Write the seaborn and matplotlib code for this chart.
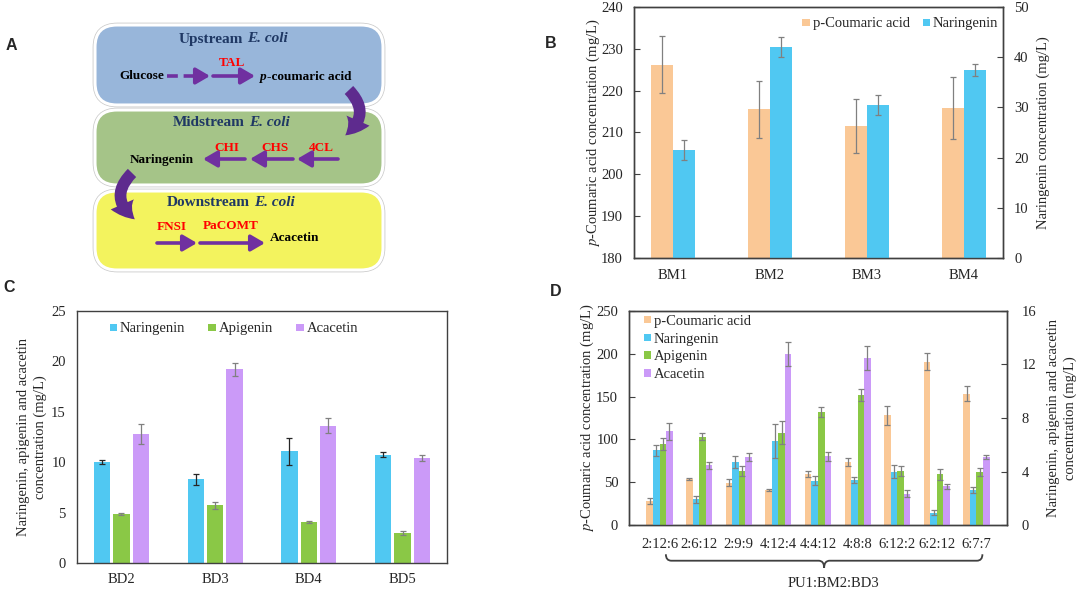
import numpy as np
import pandas as pd
import matplotlib
matplotlib.use('Agg')
import matplotlib.pyplot as plt
import seaborn as sns
from matplotlib.patches import FancyBboxPatch, FancyArrowPatch, Patch, PathPatch
from matplotlib.path import Path
from matplotlib.offsetbox import TextArea, HPacker, AnnotationBbox
import matplotlib.transforms as mtransforms

# ---------------- data ----------------
# Panel B
strains_B = ['BM1', 'BM2', 'BM3', 'BM4']
coumaric_B = [226.2, 215.5, 211.6, 215.9]
coumaric_B_err = [6.8, 6.7, 6.5, 7.4]
naringenin_B = [21.6, 42.0, 30.5, 37.4]
naringenin_B_err = [2.0, 2.0, 2.0, 1.2]

# Panel C
strains_C = ['BD2', 'BD3', 'BD4', 'BD5']
naringenin_C = [10.0, 8.3, 11.1, 10.75]
naringenin_C_err = [0.2, 0.55, 1.35, 0.25]
apigenin_C = [4.88, 5.74, 4.06, 3.0]
apigenin_C_err = [0.12, 0.33, 0.12, 0.15]
acacetin_C = [12.8, 19.2, 13.62, 10.46]
acacetin_C_err = [0.95, 0.65, 0.75, 0.3]

# Panel D
ratios_D = ['2:12:6', '2:6:12', '2:9:9', '4:12:4', '4:4:12', '4:8:8', '6:12:2', '6:2:12', '6:7:7']
coumaric_D = [28.0, 53.6, 49.7, 40.8, 59.8, 73.8, 128.1, 190.6, 153.3]
coumaric_D_err = [3.5, 1.0, 4.0, 1.0, 3.5, 4.5, 11.0, 10.0, 9.0]
naringenin_D = [5.59, 1.94, 4.72, 6.29, 3.33, 3.40, 4.0, 0.94, 2.63]
naringenin_D_err = [0.42, 0.25, 0.45, 1.24, 0.35, 0.23, 0.5, 0.2, 0.25]
apigenin_D = [6.06, 6.61, 4.05, 6.91, 8.45, 9.69, 4.05, 3.8, 4.0]
apigenin_D_err = [0.47, 0.25, 0.4, 0.87, 0.4, 0.45, 0.4, 0.42, 0.3]
acacetin_D = [7.0, 4.47, 5.07, 12.8, 5.14, 12.47, 2.36, 2.9, 5.12]
acacetin_D_err = [0.65, 0.25, 0.3, 0.9, 0.35, 0.92, 0.27, 0.2, 0.15]

# ---------------- style ----------------
sns.set_theme(style='white')
plt.rcParams['font.family'] = ['Liberation Serif', 'DejaVu Serif']
plt.rcParams['mathtext.fontset'] = 'stix'
plt.rcParams['axes.edgecolor'] = '#404040'
plt.rcParams['axes.linewidth'] = 1.0
plt.rcParams['patch.force_edgecolor'] = False

PEACH = '#FAC896'
BLUE = '#50C8F2'
GREEN = '#8AC846'
PURPLE = '#CB9AF8'
ECOL = '#808080'
FS = 10.5

fig = plt.figure(figsize=(10.8, 5.92), dpi=100)

# ---------------- Panel A (diagram) ----------------
ax0 = fig.add_axes([0, 0, 1, 1])
ax0.set_xlim(0, 1080)
ax0.set_ylim(592, 0)
ax0.axis('off')

boxes = [((95, 25), 288, 80, '#98B6DA'),
         ((95, 110), 288, 75, '#A5C488'),
         ((95, 191), 288, 79, '#F3F35E')]
for (x, y), w, h, c in boxes:
    ax0.add_patch(FancyBboxPatch((x - 1.5, y - 1.5), w + 3, h + 3,
                                 boxstyle='round,pad=0,rounding_size=24',
                                 fc='none', ec='#c8c8c8', lw=1.2))
    ax0.add_patch(FancyBboxPatch((x, y), w, h, boxstyle='round,pad=0,rounding_size=22',
                                 fc=c, ec='white', lw=2.2))

NAVY = '#1F3864'
PUR = '#7030A0'
RED = '#FF0000'


def mixed(xy, parts, size, color, sep=3):
    areas = [TextArea(t, textprops=dict(fontfamily='Liberation Serif', fontsize=size,
                                        fontweight='bold', fontstyle=s, color=color))
             for t, s in parts]
    pack = HPacker(children=areas, align='baseline', pad=0, sep=sep)
    ab = AnnotationBbox(pack, xy, xycoords='data', frameon=False,
                        box_alignment=(0.5, 0.5), pad=0)
    ax0.add_artist(ab)


mixed((233, 39), [('Upstream', 'normal'), ('E. coli', 'italic')], 11, NAVY)
mixed((231, 122), [('Midstream', 'normal'), ('E. coli', 'italic')], 11, NAVY)
mixed((231, 203), [('Downstream', 'normal'), ('E. coli', 'italic')], 11, NAVY)

tb = dict(fontfamily='Liberation Serif', fontweight='bold', fontsize=9.5, ha='center', va='center')
ax0.text(142, 76, 'Glucose', color='black', **tb)
mixed((306, 77), [('p', 'italic'), ('-coumaric acid', 'normal')], 9.5, 'black', sep=0)
ax0.text(162, 160, 'Naringenin', color='black', **tb)
ax0.text(295, 238, 'Acacetin', color='black', **tb)
for txt, x, y in [('TAL', 232, 63), ('4CL', 321, 148), ('CHS', 275, 148), ('CHI', 227, 148),
                  ('FNSI', 172, 227), ('PaCOMT', 231, 226)]:
    ax0.text(x, y, txt, color=RED, **tb)


def arrow(x0, x1, y):
    ax0.annotate('', xy=(x1, y), xytext=(x0, y),
                 arrowprops=dict(arrowstyle='-|>,head_length=0.6,head_width=0.35', color=PUR,
                                 lw=2.6, shrinkA=0, shrinkB=0, mutation_scale=14))


ax0.plot([167, 199], [76, 76], color=PUR, lw=2.6, ls=(0, (3, 1.6)))
arrow(199, 210, 76)
arrow(213, 255, 76)
arrow(338, 297, 159)
arrow(293, 250, 159)
arrow(245, 203, 159)
arrow(157, 197, 243)
arrow(200, 265, 243)

for p0, p1, rad in [((347, 88), (343, 137), -0.6), ((134, 171), (137, 221), 0.6)]:
    ax0.add_patch(FancyArrowPatch(p0, p1, connectionstyle=f'arc3,rad={rad}',
                                  arrowstyle='simple,head_width=1.3,head_length=1.0,tail_width=0.6',
                                  mutation_scale=14, color='#5E2B8E', lw=0))

lt = dict(fontfamily='Liberation Sans', fontweight='bold', fontsize=11.5, ha='center', va='center')
ax0.text(11, 46, 'A', **lt)
ax0.text(551, 43, 'B', **lt)
ax0.text(9, 287, 'C', **lt)
ax0.text(556, 292, 'D', **lt)


# ---------------- helpers ----------------
def series_bars(ax, cats, name, values, errs, hue_order, palette, width, gap, ecolor):
    df = pd.DataFrame({'group': cats, 'series': [name] * len(cats), 'value': values})
    sns.barplot(data=df, x='group', y='value', hue='series', hue_order=hue_order,
                order=cats, palette=palette, width=width, gap=gap, dodge=True,
                errorbar=None, saturation=1, legend=False, linewidth=0, ax=ax)
    cont = [c for c in ax.containers if len(c) > 0][-1]
    xs = [p.get_x() + p.get_width() / 2 for p in cont]
    ax.errorbar(xs, values, yerr=errs, fmt='none', ecolor=ecolor, elinewidth=0.9,
                capsize=2.3, capthick=0.9, zorder=5)


def style_axes(axs):
    for a in axs:
        for s in a.spines.values():
            s.set_visible(True)
            s.set_color('#404040')
            s.set_linewidth(1.0)
        a.set_xlabel('')
        a.tick_params(axis='y', direction='in', length=4, width=0.8, labelsize=FS, pad=8,
                      colors='#404040', labelcolor='#262626')
        a.tick_params(axis='x', length=0, labelsize=FS, labelcolor='#262626')


def handles(keys, pal):
    return [Patch(facecolor=pal[k], edgecolor='none', linewidth=0, label=k) for k in keys]


LEG = dict(frameon=False, fontsize=FS, handlelength=0.5, handleheight=0.4,
           handletextpad=0.2, borderpad=0.2, borderaxespad=0)

# ---------------- Panel B ----------------
axB = fig.add_axes([634 / 1080, 1 - 258 / 592, 369 / 1080, 251 / 592])
axB2 = axB.twinx()
hB = ['p-Coumaric acid', 'Naringenin']
palB = {'p-Coumaric acid': PEACH, 'Naringenin': BLUE}
series_bars(axB, strains_B, 'p-Coumaric acid', coumaric_B, coumaric_B_err, hB, palB, 0.46, 0, ECOL)
series_bars(axB2, strains_B, 'Naringenin', naringenin_B, naringenin_B_err, hB, palB, 0.46, 0, ECOL)
axB.set_ylim(180, 240)
axB.set_yticks(np.arange(180, 241, 10))
axB2.set_ylim(0, 50)
axB2.set_yticks(np.arange(0, 51, 10))
style_axes([axB, axB2])
axB.tick_params(axis='x', pad=8)
axB.set_ylabel('$\\it{p}$-Coumaric acid concentration (mg/L)', fontsize=FS, va='center', color='#262626')
axB.yaxis.set_label_coords(-0.111, 0.5)
axB2.set_ylabel('Naringenin concentration (mg/L)', fontsize=FS, va='center', rotation=90, color='#262626')
axB2.yaxis.set_label_coords(1.108, 0.5)
axB2.legend(handles=handles(hB, palB), loc='upper right', bbox_to_anchor=(0.995, 0.97),
            ncol=2, columnspacing=0.9, **LEG)

# ---------------- Panel C ----------------
axC = fig.add_axes([77 / 1080, 1 - 563.3 / 592, 370 / 1080, 252.6 / 592])
dfC = pd.DataFrame({
    'group': strains_C * 3,
    'series': ['Naringenin'] * 4 + ['Apigenin'] * 4 + ['Acacetin'] * 4,
    'value': naringenin_C + apigenin_C + acacetin_C,
})
hC = ['Naringenin', 'Apigenin', 'Acacetin']
palC = {'Naringenin': BLUE, 'Apigenin': GREEN, 'Acacetin': PURPLE}
sns.barplot(data=dfC, x='group', y='value', hue='series', hue_order=hC, order=strains_C,
            palette=palC, width=0.62, gap=0.15, errorbar=None, saturation=1, legend=False,
            linewidth=0, ax=axC)
contsC = [c for c in axC.containers if len(c) > 0]
for cont, vals, errs, ec in zip(contsC, [naringenin_C, apigenin_C, acacetin_C],
                                [naringenin_C_err, apigenin_C_err, acacetin_C_err],
                                ['#262626', ECOL, ECOL]):
    xs = [p.get_x() + p.get_width() / 2 for p in cont]
    axC.errorbar(xs, vals, yerr=errs, fmt='none', ecolor=ec, elinewidth=0.9,
                 capsize=2.3, capthick=0.9, zorder=5)
axC.set_ylim(0, 25)
axC.set_yticks(np.arange(0, 26, 5))
style_axes([axC])
axC.tick_params(axis='x', pad=7)
axC.set_ylabel('Naringenin, apigenin and acacetin\nconcentration (mg/L)', fontsize=FS,
               va='center', linespacing=1.3, color='#262626')
axC.yaxis.set_label_coords(-0.122, 0.5)
axC.legend(handles=handles(hC, palC), loc='upper left', bbox_to_anchor=(0.08, 0.965),
           ncol=3, columnspacing=1.6, **LEG)

# ---------------- Panel D ----------------
axD = fig.add_axes([629.3 / 1080, 1 - 525.3 / 592, 377.4 / 1080, 214.6 / 592])
axD2 = axD.twinx()
hD = ['p-Coumaric acid', 'Naringenin', 'Apigenin', 'Acacetin']
palD = {'p-Coumaric acid': PEACH, 'Naringenin': BLUE, 'Apigenin': GREEN, 'Acacetin': PURPLE}
series_bars(axD, ratios_D, 'p-Coumaric acid', coumaric_D, coumaric_D_err, hD, palD, 0.66, 0, ECOL)
series_bars(axD2, ratios_D, 'Naringenin', naringenin_D, naringenin_D_err, hD, palD, 0.66, 0, ECOL)
series_bars(axD2, ratios_D, 'Apigenin', apigenin_D, apigenin_D_err, hD, palD, 0.66, 0, ECOL)
series_bars(axD2, ratios_D, 'Acacetin', acacetin_D, acacetin_D_err, hD, palD, 0.66, 0, ECOL)
axD.set_ylim(0, 250)
axD.set_yticks(np.arange(0, 251, 50))
axD2.set_ylim(0, 16)
axD2.set_yticks(np.arange(0, 17, 4))
style_axes([axD, axD2])
axD2.tick_params(axis='y', pad=11)
axD.tick_params(axis='x', pad=9)
axD.set_ylabel('$\\it{p}$-Coumaric acid concentration (mg/L)', fontsize=FS, va='center', color='#262626')
axD.yaxis.set_label_coords(-0.112, 0.5)
axD2.set_ylabel('Naringenin, apigenin and acacetin\nconcentration (mg/L)', fontsize=FS,
                va='center', rotation=90, linespacing=1.3, color='#262626')
axD2.yaxis.set_label_coords(1.147, 0.5)
axD2.legend(handles=handles(hD, palD), loc='upper left', bbox_to_anchor=(0.03, 0.995),
            ncol=1, labelspacing=0.33, **LEG)

# brace under the x tick labels
trans = mtransforms.blended_transform_factory(axD.transData, axD.transAxes)
x0, x1 = 0.16, 8.15
xm = (x0 + x1) / 2
yt, yl, yp = -0.135, -0.165, -0.198
dx = 0.14
verts = [(x0, yt), (x0, yl), (x0 + dx, yl), (xm - dx, yl), (xm, yl), (xm, yp),
         (xm, yl), (xm + dx, yl), (x1 - dx, yl), (x1, yl), (x1, yt)]
codes = [Path.MOVETO, Path.CURVE3, Path.CURVE3, Path.LINETO, Path.CURVE3, Path.CURVE3,
         Path.CURVE3, Path.CURVE3, Path.LINETO, Path.CURVE3, Path.CURVE3]
fig.add_artist(PathPatch(Path(verts, codes), transform=trans, fc='none', ec='#404040', lw=1.3))
axD.text(0.54, -0.27, 'PU1:BM2:BD3', transform=axD.transAxes, ha='center', va='center',
         fontsize=FS, color='#262626')

fig.savefig('out.png', dpi=100)
